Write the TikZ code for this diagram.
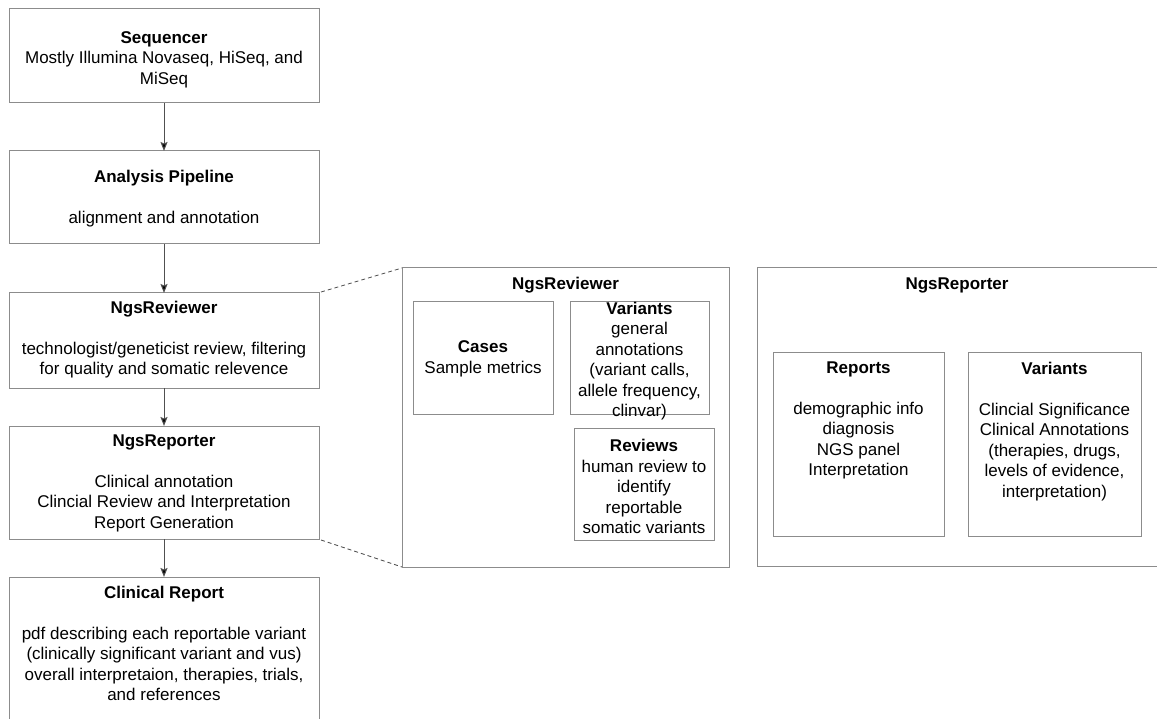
\documentclass[tikz,border=0pt]{standalone}
\usepackage{fontspec}
\setmainfont{Liberation Sans}
\usetikzlibrary{arrows.meta}
\definecolor{boxgray}{HTML}{8C8C8C}
\definecolor{linegray}{HTML}{505050}
\tikzset{
  box/.style={draw=boxgray, line width=1pt, rectangle, inner sep=0pt, outer sep=0pt, align=center},
  txt/.style={inner sep=0pt, align=center, font=\fontsize{17}{20.5}\selectfont},
  flow/.style={draw=linegray, line width=1pt, -{Stealth[length=9pt,width=7pt,inset=1.5pt,fill=black]}},
  zoomline/.style={draw=linegray, line width=0.8pt, dash pattern=on 4pt off 3pt},
}
\newcommand{\boxat}[5]{% name, x1, y1, x2, y2
  \node[box, minimum width={#4-#2}, minimum height={#5-#3}] (#1) at ({(#2+#4)/2},{(#3+#5)/2}) {};}
\begin{document}
\begin{tikzpicture}[x=1pt,y=-1pt]
\useasboundingbox (0,0) rectangle (1157,719);
% left column
\boxat{seq}{9}{9}{319}{103}
\boxat{pipe}{9}{151}{319}{244}
\boxat{rev}{9}{293}{319}{388}
\boxat{rep}{9}{426}{319}{539}
\boxat{clin}{9}{577}{319}{730}
\node[txt] (seqt) at (164,59.5) {\textbf{Sequencer}\\Mostly Illumina Novaseq, HiSeq, and\\MiSeq};
\node[txt] (pipet) at (164,199) {\textbf{Analysis Pipeline}\\[20.5pt]alignment and annotation};
\node[txt] (revt) at (164,339.5) {\textbf{NgsReviewer}\\[20.5pt]technologist/geneticist review, filtering\\for quality and somatic relevence};
\node[txt] (rept) at (164,483) {\textbf{NgsReporter}\\[20.5pt]Clinical annotation\\Clincial Review and Interpretation\\Report Generation};
\node[txt, anchor=north] (clint) at (164,585.5) {\textbf{Clinical Report}\\[20.5pt]pdf describing each reportable variant\\(clinically significant variant and vus)\\overall interpretaion, therapies, trials,\\and references};
\draw[flow] (seq.south) -- (pipe.north);
\draw[flow] (pipe.south) -- (rev.north);
\draw[flow] (rev.south) -- (rep.north);
\draw[flow] (rep.south) -- (clin.north);
% NgsReviewer detail
\boxat{rvo}{402}{268}{729}{567}
\node[txt] (rvot) at (565.5,285.5) {\textbf{NgsReviewer}};
\boxat{cases}{413}{302}{553}{414}
\node[txt] (casest) at (483,359) {\textbf{Cases}\\Sample metrics};
\boxat{var}{570}{302}{709}{414}
\node[txt] (vart) at (639.5,361) {\textbf{Variants}\\general\\annotations\\(variant calls,\\allele frequency,\\clinvar)};
\boxat{revs}{574}{428}{714}{540}
\node[txt] (revst) at (644,486.5) {\textbf{Reviews}\\human review to\\identify\\reportable\\somatic variants};
% NgsReporter detail
\boxat{rpo}{757}{268}{1157.6}{566}
\node[txt] (rpot) at (957,285.5) {\textbf{NgsReporter}};
\boxat{reports}{773}{353}{944}{536}
\node[txt, anchor=north] (reportst) at (858.5,361.5) {\textbf{Reports}\\[20.5pt]demographic info\\diagnosis\\NGS panel\\Interpretation};
\boxat{var2}{968}{353}{1141}{536}
\node[txt, anchor=north] (var2t) at (1054.5,361.5) {\textbf{Variants}\\[20.5pt]Clincial Significance\\Clinical Annotations\\(therapies, drugs,\\levels of evidence,\\interpretation)};
% zoom lines
\draw[zoomline] (rev.north east) ++(2,-1) coordinate (za) -- (rvo.north west);
\draw[zoomline] (rep.south east) ++(2,1) coordinate (zb) -- (rvo.south west);
\end{tikzpicture}
\end{document}
